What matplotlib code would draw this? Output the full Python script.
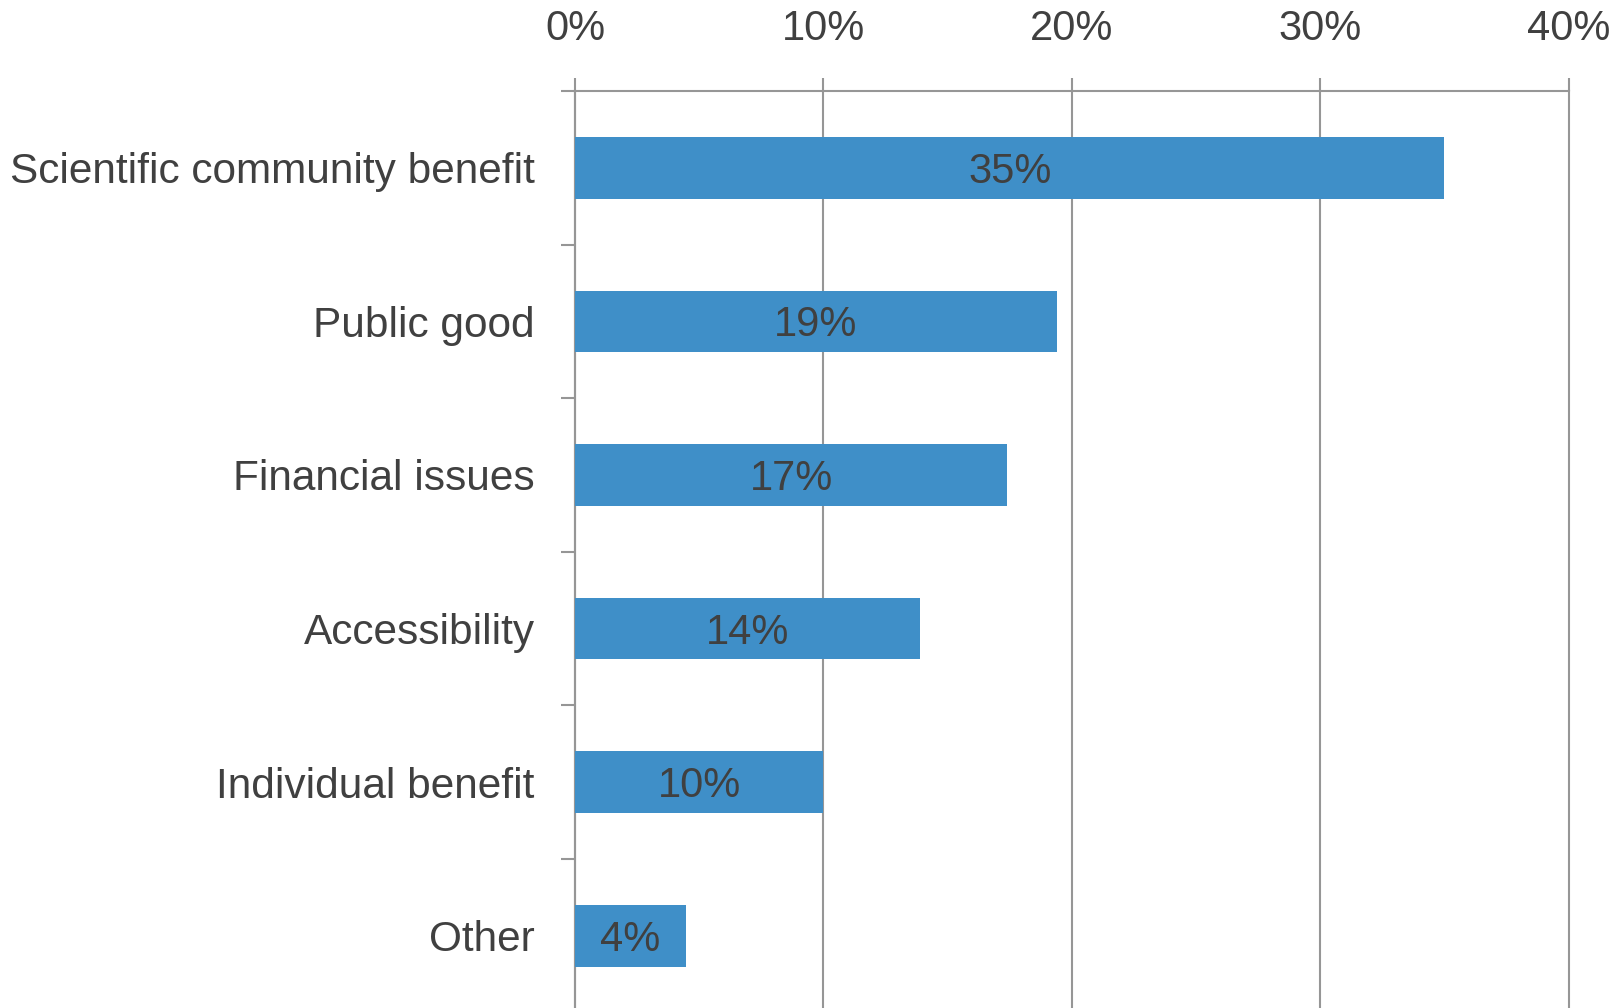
import matplotlib
matplotlib.use("Agg")
import matplotlib.pyplot as plt
from matplotlib.ticker import FixedLocator, PercentFormatter

categories = ["Scientific community benefit", "Public good", "Financial issues",
              "Accessibility", "Individual benefit", "Other"]
values = [35.0, 19.4, 17.4, 13.9, 10.0, 4.47]
xticks = [0, 10, 20, 30, 40]

plt.rcParams['font.family'] = ['Liberation Sans', 'DejaVu Sans']
TEXT = "#404040"
GRID = "#969696"
BAR = "#3F8FC8"
FS = 30

W, H = 1616, 1008
fig = plt.figure(figsize=(W / 100, H / 100), dpi=100)
left, right, top, bottom = 575, 1568.7, 91, 1012.6
ax = fig.add_axes([left / W, 1 - bottom / H, (right - left) / W, (bottom - top) / H])

y = list(range(len(categories)))
ax.barh(y, values, height=0.40, color=BAR, zorder=3)
cap_half = 0.716 * FS / 2
for yi, v in zip(y, values):
    ax.annotate(f"{v:.0f}%", xy=(v / 2, yi), xytext=(0, -cap_half),
                textcoords="offset points", ha="center", va="baseline",
                fontsize=FS, color=TEXT, zorder=4)

ax.set_xlim(0, 40)
ax.set_ylim(len(categories) - 0.5, -0.5)
ax.xaxis.tick_top()
ax.set_xticks(xticks)
ax.xaxis.set_major_formatter(PercentFormatter(decimals=0))
ax.tick_params(axis="x", which="major", length=9.5, width=1.5, color=GRID,
               labelsize=FS, labelcolor=TEXT, pad=21, direction="out")

ax.set_yticks(y)
ax.set_yticklabels(categories)
ax.tick_params(axis="y", which="major", length=0, labelsize=30.5,
               labelcolor=TEXT, pad=29)
ax.yaxis.set_minor_locator(FixedLocator([i - 0.5 for i in range(len(categories) + 1)]))
ax.tick_params(axis="y", which="minor", length=10, width=1.5, color=GRID,
               direction="out")

ax.grid(axis="x", color=GRID, linewidth=1.5, zorder=1)
for ln in ax.get_xgridlines():
    ln.set_clip_on(False)
ax.set_axisbelow(True)

for s in ["right", "bottom"]:
    ax.spines[s].set_visible(False)
for s in ["top", "left"]:
    ax.spines[s].set_color(GRID)
    ax.spines[s].set_linewidth(1.5)

fig.savefig("out.png", dpi=100)
